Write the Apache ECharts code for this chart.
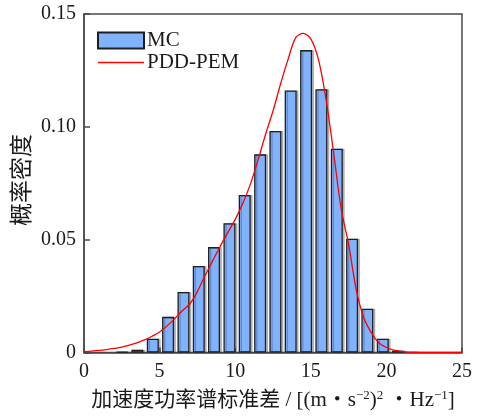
<!DOCTYPE html>
<html>
<head>
<meta charset="utf-8">
<script src="https://cdn.jsdelivr.net/npm/echarts@6/dist/echarts.min.js"></script>
<style>
  html, body { margin: 0; padding: 0; background: #fff; }
  #chart { width: 479px; height: 418px; }
</style>
</head>
<body>
<div id="chart"></div>
<script>
// Histogram of Monte Carlo samples: bin centres and probability densities
const binCenters = [2.52, 3.53, 4.55, 5.56, 6.58, 7.59, 8.60, 9.62, 10.63, 11.65,
                    12.66, 13.67, 14.69, 15.70, 16.72, 17.73, 18.74, 19.76, 20.77];
const mcDensity  = [0.0003, 0.0012, 0.0061, 0.0158, 0.0268, 0.0383, 0.0467, 0.0573, 0.0698, 0.0878,
                    0.0982, 0.1161, 0.1340, 0.1167, 0.0903, 0.0504, 0.0194, 0.0061, 0.0008];

// PDD-PEM probability density curve
const pdfX = [0, 0.5, 1, 1.5, 2, 2.5, 3, 3.5, 4, 4.5, 5, 5.5, 6, 6.5, 7, 7.5, 8, 8.5, 9, 9.5,
              10, 10.5, 11, 11.5, 12, 12.5, 13, 13.5, 14, 14.5, 15, 15.5, 16, 16.5, 17, 17.5,
              18, 18.5, 19, 19.5, 20, 20.5, 21, 21.5, 22, 23, 24, 25];
const pdfY = [0.0004, 0.0006, 0.0009, 0.0013, 0.0018, 0.0024, 0.0033, 0.0043, 0.0056, 0.0072,
              0.0091, 0.0118, 0.0150, 0.0185, 0.0216, 0.0270, 0.0340, 0.0405, 0.0470, 0.0530,
              0.0590, 0.0660, 0.0745, 0.0850, 0.0965, 0.1070, 0.1190, 0.1300, 0.1395, 0.1414,
              0.1390, 0.1300, 0.1125, 0.0890, 0.0640, 0.0480, 0.0280, 0.0155, 0.0088, 0.0043,
              0.0022, 0.0010, 0.0005, 0.0002, 0.0001, 0, 0, 0];

const xTicks = [0, 5, 10, 15, 20, 25];
const yTicks = [0, 0.05, 0.10, 0.15];

const seriesNames = ['MC', 'PDD-PEM'];
const xName = '加速度功率谱标准差 / [(m・s{sup|−2}){sup|2} ・Hz{sup|−1}]';
const yName = '概率密度';

const FONT = '"Liberation Serif", "Times New Roman", "Noto Sans CJK SC", serif';
const AXIS_COLOR = '#4a4a4a';
const TEXT_COLOR = '#1a1a1a';
const CURVE_COLOR = '#ff0000';

const chart = echarts.init(document.getElementById('chart'), null, { renderer: 'canvas' });

chart.setOption({
  animation: false,
  backgroundColor: '#fff',
  textStyle: { fontFamily: FONT },
  grid: {
    left: 84, right: 17, top: 14, bottom: 65.5,
    show: true, borderColor: AXIS_COLOR, borderWidth: 1.5, backgroundColor: 'transparent'
  },
  legend: {
    left: 97, top: 30,
    padding: 0,
    orient: 'vertical',
    itemWidth: 46, itemHeight: 16, itemGap: 1,
    symbolKeepAspect: true,
    textStyle: { fontFamily: FONT, fontSize: 21, color: TEXT_COLOR, padding: [0, 0, 0, -2] },
    data: [
      { name: seriesNames[0], icon: 'rect' },
      { name: seriesNames[1], icon: 'path://M0,0H46V1.3H0Z', itemStyle: { color: CURVE_COLOR } }
    ]
  },
  xAxis: {
    type: 'value',
    min: xTicks[0], max: xTicks[xTicks.length - 1], interval: 5,
    name: xName,
    nameLocation: 'middle',
    nameGap: 37,
    nameTextStyle: {
      fontFamily: FONT, fontSize: 21, color: TEXT_COLOR,
      rich: { sup: { fontFamily: FONT, fontSize: 13, color: TEXT_COLOR, verticalAlign: 'top', padding: [0, 0, 8, 0] } }
    },
    axisLine: { show: true, lineStyle: { color: AXIS_COLOR, width: 1.5 } },
    axisTick: { show: true, inside: true, length: 5, lineStyle: { color: AXIS_COLOR, width: 1.5 } },
    axisLabel: { fontFamily: FONT, fontSize: 20, color: TEXT_COLOR, margin: 9 },
    splitLine: { show: false }
  },
  yAxis: {
    type: 'value',
    min: yTicks[0], max: yTicks[yTicks.length - 1], interval: 0.05,
    axisLine: { show: true, lineStyle: { color: AXIS_COLOR, width: 1.5 } },
    axisTick: { show: true, inside: true, length: 6, lineStyle: { color: AXIS_COLOR, width: 1.5 } },
    axisLabel: {
      fontFamily: FONT, fontSize: 20, color: TEXT_COLOR, margin: 8,
      formatter: v => (v === 0 ? '0' : v.toFixed(2))
    },
    splitLine: { show: false }
  },
  graphic: [{
    type: 'text',
    x: 23, y: 180,
    rotation: Math.PI / 2,
    style: {
      text: yName,
      fontFamily: FONT, fontSize: 23, fill: TEXT_COLOR,
      align: 'center', verticalAlign: 'middle'
    }
  }],
  series: [
    {
      name: seriesNames[0],
      type: 'bar',
      barWidth: 12,
      data: binCenters.map((c, i) => [c, mcDensity[i]]),
      itemStyle: {
        color: '#80b2fe',
        borderColor: '#1e1e1e',
        borderWidth: 1.3,
        shadowColor: 'rgba(0,0,0,0.22)',
        shadowOffsetX: 2,
        shadowOffsetY: 0,
        shadowBlur: 0
      }
    },
    {
      name: seriesNames[1],
      type: 'line',
      symbol: 'none',
      smooth: 0.3,
      data: pdfX.map((x, i) => [x, pdfY[i]]),
      lineStyle: { color: CURVE_COLOR, width: 1.3 },
      itemStyle: { color: CURVE_COLOR },
      z: 3
    }
  ]
});
</script>
</body>
</html>
